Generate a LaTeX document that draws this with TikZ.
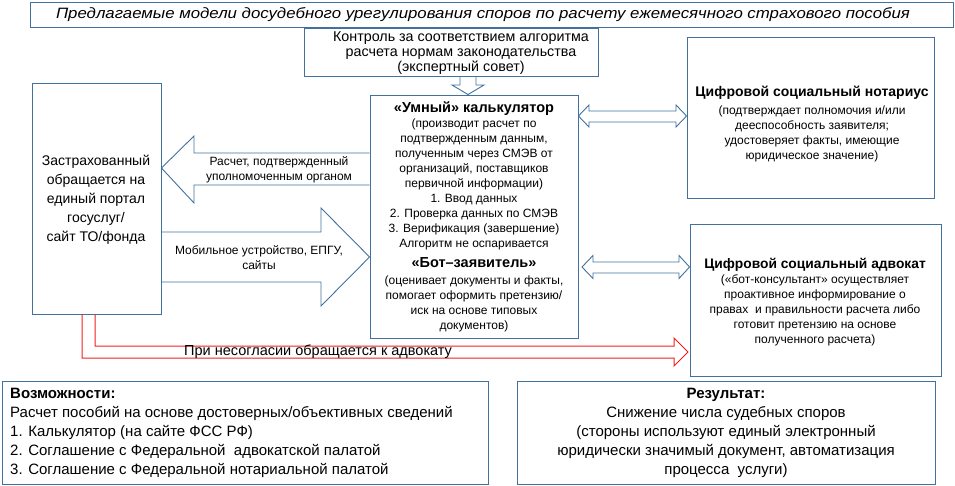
\documentclass[tikz,border=0pt]{standalone}
\usepackage{graphicx}
\usepackage{fontspec}
\setmainfont{Liberation Sans}
\definecolor{bl}{RGB}{65,113,156}
\definecolor{rd}{RGB}{240,30,30}
\begin{document}
\begin{tikzpicture}[x=1pt,y=-1pt,
  box/.style={draw=bl, line width=0.9pt, inner sep=0pt, fill=white},
  barrow/.style={draw=bl, line width=0.9pt, line join=miter},
  rarrow/.style={draw=rd, line width=1pt, line join=miter},
  txt/.style={inner sep=0pt, align=center, text=black},
  ftitle/.style={font=\fontsize{15}{18}\selectfont\itshape},
  fa/.style={font=\fontsize{12}{15}\selectfont},
  fb/.style={font=\fontsize{14.3}{15}\selectfont},
  fc/.style={font=\fontsize{14}{19}\selectfont},
  fd/.style={font=\fontsize{15}{19}\selectfont},
  fr/.style={font=\fontsize{14.5}{15}\selectfont}]
\useasboundingbox (0,0) rectangle (955,486);

% boxes
\node[box, minimum width=923pt, minimum height=25pt] (title) at (491.5,14.5) {};
\node[box, minimum width=294pt, minimum height=48pt] (ctrl) at (451,52) {};
\node[box, minimum width=129pt, minimum height=231pt] (ins) at (96.5,198.5) {};
\node[box, minimum width=208pt, minimum height=243pt] (calc) at (474,216.5) {};
\node[box, minimum width=247pt, minimum height=161pt] (notary) at (810.5,117.5) {};
\node[box, minimum width=251pt, minimum height=152pt] (adv) at (815.5,300) {};
\node[box, minimum width=486pt, minimum height=103pt] (poss) at (245,432.5) {};
\node[box, minimum width=418pt, minimum height=103pt] (res) at (726,432.5) {};

% texts
\node[txt, ftitle] (titletext) at (483,15) {\scalebox{1.12}[1]{Предлагаемые модели досудебного урегулирования споров по расчету ежемесячного страхового пособия}};
\node[txt, fb] (ctrltext) at (461,53) {Контроль за соответствием алгоритма\\расчета нормам законодательства\\(экспертный совет)};
\node[txt, fc] (instext) at (96,200) {Застрахованный\\обращается на\\единый портал\\госуслуг/\\сайт ТО/фонда};
\node[txt, fa] (calctext) at (474,217) {{\fontsize{14.5}{15}\selectfont\bfseries «Умный» калькулятор}\\(производит расчет по\\подтвержденным данным,\\полученным через СМЭВ от\\организаций, поставщиков\\первичной информации)\\1. Ввод данных\\2. Проверка данных по СМЭВ\\3. Верификация (завершение)\\Алгоритм не оспаривается\\[5pt]{\fontsize{14.5}{15}\selectfont\bfseries «Бот–заявитель»}\\[2pt](оценивает документы и факты,\\помогает оформить претензию/\\иск на основе типовых\\документов)};
\node[txt, fa] (notarytext) at (812,124) {{\fontsize{14}{15}\selectfont\bfseries Цифровой социальный нотариус}\\[3pt](подтверждает полномочия и/или\\дееспособность заявителя;\\удостоверяет факты, имеющие\\юридическое значение)};
\node[txt, fa] (advtext) at (815,302) {{\fontsize{13.8}{15}\selectfont\bfseries Цифровой социальный адвокат}\\(«бот-консультант» осуществляет\\проактивное информирование о\\правах\ \ и правильности расчета либо\\готовит претензию на основе\\полученного расчета)};
\node[txt, fd, align=left, anchor=north west] (posstext) at (10,388) {\textbf{Возможности:}\\Расчет пособий на основе достоверных/объективных сведений\\1. Калькулятор (на сайте ФСС РФ)\\2. Соглашение с Федеральной\ \ адвокатской палатой\\3. Соглашение с Федеральной нотариальной палатой};
\node[txt, fd] (restext) at (726,433) {\textbf{Результат:}\\Снижение числа судебных споров\\(стороны используют единый электронный\\юридически значимый документ, автоматизация\\процесса\ \ услуги)};

% down arrow from control box to calculator
\draw[barrow] (460,0 |- ctrl.south) -- (460,85) -- (452,85) -- (468,0 |- calc.north) -- (484,85) -- (476,85) -- (476,0 |- ctrl.south);

% left block arrow: calculator -> insured
\draw[barrow] (calc.west |- 0,153) -- (194,153) -- (194,136) -- (ins.east |- 0,168) -- (194,203) -- (194,185) -- (calc.west |- 0,185);
\node[txt, fa] (lbl1) at (279,170) {Расчет, подтвержденный\\уполномоченным органом};

% right block arrow: insured -> calculator
\draw[barrow] (ins.east |- 0,232) -- (321,232) -- (321,208) -- (calc.west |- 0,257) -- (321,306) -- (321,282) -- (ins.east |- 0,282);
\node[txt, fa] (lbl2) at (259,258) {Мобильное устройство, ЕПГУ,\\сайты};

% double arrows
\draw[barrow] (calc.east |- 0,116) -- (589,105) -- (589,111) -- (676,111) -- (676,105) -- (notary.west |- 0,116) -- (676,127) -- (676,122) -- (589,122) -- (589,127) -- cycle;
\draw[barrow] (582,267) -- (593,255.5) -- (593,262) -- (679,262) -- (679,255.5) -- (adv.west |- 0,267) -- (679,278.5) -- (679,273) -- (593,273) -- (593,278.5) -- cycle;

% red bent arrow
\draw[rarrow] (82,0 |- ins.south) -- (82,358) -- (674,358) -- (674,366) -- (688,352) -- (674,338) -- (674,346) -- (95,346) -- (95,0 |- ins.south);
\node[txt, fr, anchor=west] (lbl3) at (184,352) {При несогласии обращается к адвокату};
\end{tikzpicture}
\end{document}
